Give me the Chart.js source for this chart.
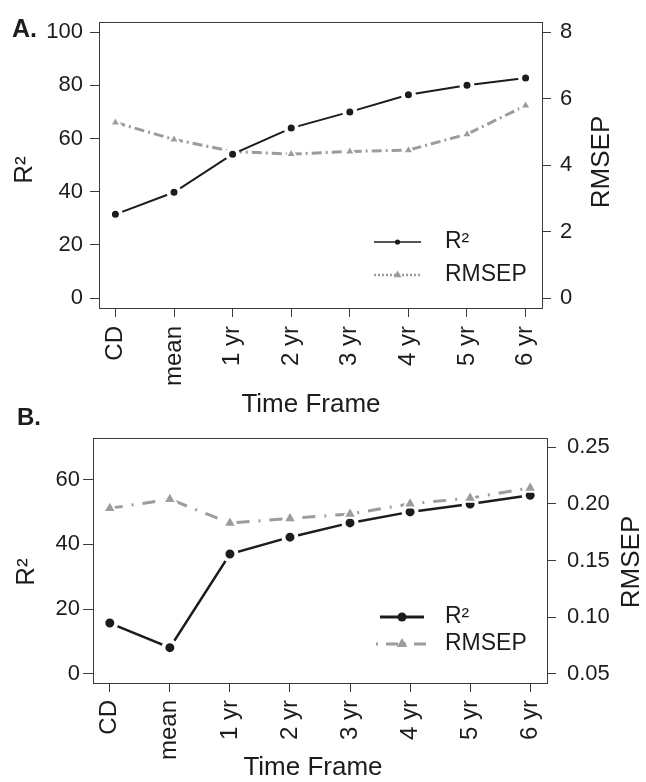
<!DOCTYPE html>
<html><head><meta charset="utf-8">
<script src="https://cdn.jsdelivr.net/npm/chart.js@4.4.0/dist/chart.umd.min.js"></script>
<style>
html,body{margin:0;padding:0;background:#fff;width:646px;height:782px;overflow:hidden;}
canvas{position:absolute;left:0;}
#ca{top:0;}
#cb{top:395px;}
</style></head><body>
<canvas id="ca" width="646" height="420"></canvas>
<canvas id="cb" width="646" height="387"></canvas>
<script>
// ---------- data ----------
const categories = ['CD', 'mean', '1 yr', '2 yr', '3 yr', '4 yr', '5 yr', '6 yr'];
const seriesNames = ['R²', 'RMSEP'];
const r2A = [31.5, 39.8, 54.1, 63.9, 70.0, 76.4, 80.0, 82.7];
const rmsepA = [5.28, 4.77, 4.41, 4.33, 4.41, 4.45, 4.93, 5.79];
const r2B = [15.7, 8.1, 37.0, 42.2, 46.6, 50.0, 52.4, 55.1];
const rmsepB = [0.196, 0.204, 0.183, 0.187, 0.191, 0.200, 0.205, 0.214];
const r2TicksA = [0, 20, 40, 60, 80, 100];
const rmsepTicksA = [0, 2, 4, 6, 8];
const r2TicksB = [0, 20, 40, 60];
const rmsepTicksB = [0.05, 0.10, 0.15, 0.20, 0.25];
const xTitle = 'Time Frame';
const panelLabels = ['A.', 'B.'];

const FONT = "'Liberation Sans', Arial, Helvetica, sans-serif";
const INK = '#1c1c1c';
const GREY = '#9c9c9c';
const AXIS = '#3a3a3a';

function pts(arr) { return arr.map((v, i) => ({ x: i + 1, y: v })); }

// plugin: frame, titles, panel label, legend
const decor = {
  id: 'decor',
  afterDraw(chart) {
    const o = chart.options.plugins.decor;
    const ctx = chart.ctx;
    const a = chart.chartArea;
    ctx.save();
    ctx.strokeStyle = AXIS; ctx.lineWidth = 1;
    ctx.strokeRect(Math.round(a.left) + 0.5, Math.round(a.top) + 0.5,
                   Math.round(a.right - a.left), Math.round(a.bottom - a.top));
    ctx.fillStyle = INK;
    ctx.textAlign = 'center'; ctx.textBaseline = 'middle';
    o.titles.forEach(t => {
      ctx.save();
      ctx.font = t.size + 'px ' + FONT;
      ctx.translate(t.x, t.y);
      ctx.rotate(t.rot);
      ctx.fillText(t.text, 0, 0);
      ctx.restore();
    });
    ctx.font = 'bold ' + o.label.size + 'px ' + FONT;
    ctx.textAlign = 'left'; ctx.textBaseline = 'alphabetic';
    ctx.fillText(o.label.text, o.label.x, o.label.y);
    // legend
    o.legend.forEach((L, i) => {
      ctx.save();
      ctx.strokeStyle = L.color; ctx.lineWidth = L.lw;
      ctx.setLineDash(L.dash || []);
      ctx.lineDashOffset = L.dashOffset || 0;
      ctx.beginPath(); ctx.moveTo(L.x1, L.y); ctx.lineTo(L.x2, L.y); ctx.stroke();
      ctx.setLineDash([]);
      ctx.fillStyle = L.color;
      const cx = (L.x1 + L.x2) / 2, cy = L.y, r = L.r;
      ctx.beginPath();
      if (L.shape === 'circle') {
        ctx.arc(cx, cy, r, 0, Math.PI * 2);
      } else {
        const s = r * Math.sqrt(3) / 2;
        ctx.moveTo(cx, cy - r); ctx.lineTo(cx + s, cy + r / 2); ctx.lineTo(cx - s, cy + r / 2); ctx.closePath();
      }
      ctx.fill();
      ctx.fillStyle = INK;
      ctx.font = L.size + 'px ' + FONT;
      ctx.textAlign = 'left'; ctx.textBaseline = 'middle';
      ctx.fillText(seriesNames[i], L.tx, L.y);
      ctx.restore();
    });
    ctx.restore();
  }
};

function makeChart(el, cfg) {
  return new Chart(el, {
    type: 'line',
    data: {
      datasets: [
        {
          label: seriesNames[0], data: pts(cfg.r2), yAxisID: 'y', order: cfg.r2Order,
          borderColor: INK, borderWidth: cfg.r2lw, tension: 0,
          pointStyle: 'circle', pointRadius: cfg.r2pr, pointBorderWidth: cfg.r2pb,
          pointBackgroundColor: INK, pointBorderColor: '#ffffff'
        },
        {
          label: seriesNames[1], data: pts(cfg.rm), yAxisID: 'y1', order: cfg.rmOrder,
          borderColor: GREY, borderWidth: cfg.rmlw, borderDash: cfg.rmDash, tension: 0,
          borderCapStyle: 'butt',
          pointStyle: 'triangle', pointRadius: cfg.rmpr, pointBorderWidth: cfg.rmpb,
          pointBackgroundColor: GREY, pointBorderColor: '#ffffff'
        }
      ]
    },
    options: {
      responsive: false, animation: false, devicePixelRatio: 1,
      layout: { padding: { top: cfg.top, left: 0, right: 0, bottom: 0 } },
      plugins: { legend: { display: false }, tooltip: { enabled: false }, decor: cfg.decor },
      scales: {
        x: {
          type: 'linear', min: 0.72, max: 8.28,
          afterBuildTicks: s => { s.ticks = categories.map((c, i) => ({ value: i + 1 })); },
          afterFit: s => { s.height = cfg.xh; },
          ticks: {
            callback: v => categories[Math.round(v) - 1], autoSkip: false,
            minRotation: 90, maxRotation: 90, padding: cfg.xpad,
            color: INK, font: { family: FONT, size: 24 }
          },
          grid: { display: true, drawOnChartArea: false, drawTicks: true, tickLength: 9, color: AXIS, lineWidth: 1 },
          border: { display: true, color: AXIS, width: 1 }
        },
        y: {
          type: 'linear', position: 'left', min: cfg.yMin, max: cfg.yMax,
          afterBuildTicks: s => { s.ticks = cfg.yTicks.map(v => ({ value: v })); },
          afterFit: s => { s.width = cfg.yw; },
          ticks: { color: INK, padding: cfg.ypad, font: { family: FONT, size: 22 } },
          grid: { display: true, drawOnChartArea: false, drawTicks: true, tickLength: cfg.ytl, color: AXIS, lineWidth: 1 },
          border: { display: true, color: AXIS, width: 1 }
        },
        y1: {
          type: 'linear', position: 'right', min: cfg.y1Min, max: cfg.y1Max,
          afterBuildTicks: s => { s.ticks = cfg.y1Ticks.map(v => ({ value: v })); },
          afterFit: s => { s.width = cfg.y1w; },
          ticks: { color: INK, padding: cfg.y1pad, font: { family: FONT, size: 22 },
                   callback: cfg.y1fmt },
          grid: { display: true, drawOnChartArea: false, drawTicks: true, tickLength: 9, color: AXIS, lineWidth: 1 },
          border: { display: true, color: AXIS, width: 1 }
        }
      }
    },
    plugins: [decor]
  });
}

makeChart(document.getElementById('ca'), {
  r2: r2A, rm: rmsepA, r2Order: 1, rmOrder: 2,
  r2lw: 2, r2pr: 5.5, r2pb: 4, rmlw: 3, rmpr: 6, rmpb: 2, rmDash: [10, 4, 2, 4],
  top: 15, xh: 112, yw: 99, y1w: 104, xpad: 9, ypad: 7, ytl: 9, y1pad: 9,
  yMin: -3.7, yMax: 103.7, yTicks: r2TicksA,
  y1Min: -0.296, y1Max: 8.296, y1Ticks: rmsepTicksA, y1fmt: v => String(v),
  decor: {
    titles: [
      { text: 'R²', x: 25, y: 170, rot: -Math.PI / 2, size: 26 },
      { text: 'RMSEP', x: 602, y: 162, rot: -Math.PI / 2, size: 26 },
      { text: xTitle, x: 311, y: 405, rot: 0, size: 26 }
    ],
    label: { text: panelLabels[0], x: 12, y: 37, size: 25 },
    legend: [
      { x1: 374, x2: 421, y: 242, color: INK, lw: 1.5, shape: 'circle', r: 2.6, tx: 445, size: 23 },
      { x1: 374, x2: 421, y: 275, color: GREY, lw: 2.5, dash: [2, 2], shape: 'triangle', r: 4.5, tx: 445, size: 23 }
    ]
  }
});

makeChart(document.getElementById('cb'), {
  r2: r2B, rm: rmsepB, r2Order: 2, rmOrder: 1,
  r2lw: 2.5, r2pr: 6.5, r2pb: 4, rmlw: 3, rmpr: 7.5, rmpb: 2, rmDash: [13, 9, 2, 9],
  top: 43, xh: 99, yw: 93, y1w: 99, xpad: 8, ypad: 3, ytl: 10, y1pad: 11,
  yMin: -2.8, yMax: 72.8, yTicks: r2TicksB,
  y1Min: 0.042, y1Max: 0.258, y1Ticks: rmsepTicksB, y1fmt: v => v.toFixed(2),
  decor: {
    titles: [
      { text: 'R²', x: 27, y: 177, rot: -Math.PI / 2, size: 26 },
      { text: 'RMSEP', x: 632, y: 167, rot: -Math.PI / 2, size: 26 },
      { text: xTitle, x: 313, y: 373, rot: 0, size: 26 }
    ],
    label: { text: panelLabels[1], x: 17, y: 30, size: 24 },
    legend: [
      { x1: 380, x2: 424, y: 222, color: INK, lw: 3, shape: 'circle', r: 4.5, tx: 445, size: 23 },
      { x1: 376, x2: 428, y: 249, color: GREY, lw: 3, dash: [2, 8, 12, 6], shape: 'triangle', r: 6, tx: 445, size: 23 }
    ]
  }
});
</script>
</body></html>
